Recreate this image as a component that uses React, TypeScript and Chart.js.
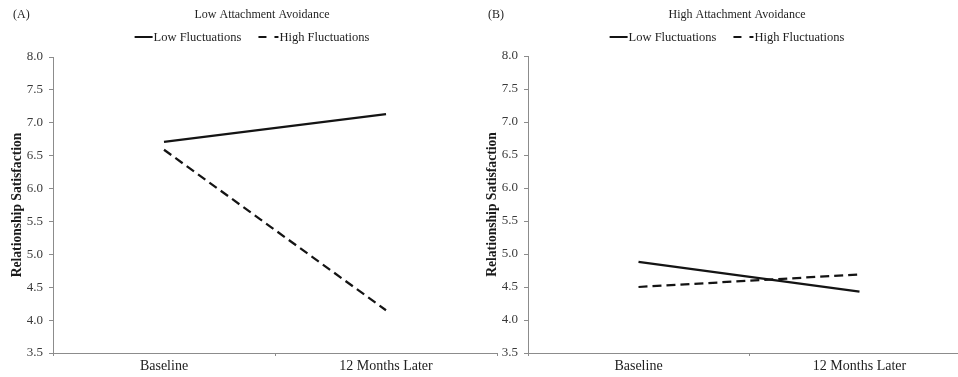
import React, { useEffect, useRef } from "react";
import { Chart, registerables } from "chart.js";

Chart.register(...registerables);
Chart.defaults.font.family = "'Liberation Serif', 'Times New Roman', serif";

// Measurement occasions and series names
const timePoints = ["Baseline", "12 Months Later"];
const seriesNames = ["Low Fluctuations", "High Fluctuations"];

// Panel A: low attachment avoidance
const lowAvoidLowFluct = [6.71, 7.13];
const lowAvoidHighFluct = [6.59, 4.15];

// Panel B: high attachment avoidance
const highAvoidLowFluct = [4.88, 4.43];
const highAvoidHighFluct = [4.5, 4.69];

// Y axis range
const yMin = 3.5;
const yMax = 8.0;
const yStep = 0.5;

const AXIS_GREY = "#8c8c8c";
const INK = "#141414";

// Draws the panel tag, panel title and the line-sample legend above the plot
const headerPlugin = {
  id: "panelHeader",
  afterDraw(chart: any, _args: any, opts: any) {
    const ctx = chart.ctx as CanvasRenderingContext2D;
    ctx.save();
    ctx.fillStyle = "#1e1e1e";
    ctx.textBaseline = "middle";
    ctx.font = "12px 'Liberation Serif'";
    ctx.textAlign = "left";
    ctx.fillText(opts.tag, opts.tagX, opts.titleY);
    ctx.textAlign = "center";
    ctx.fillText(opts.title, opts.titleX, opts.titleY);

    // legend
    ctx.font = "12.5px 'Liberation Serif'";
    const samples = [18, 20];
    const itemGap = 17;
    const items = chart.data.datasets.map((ds: any, i: number) => ({
      label: ds.label as string,
      dash: (ds.legendDash || []) as number[],
      sample: samples[i] ?? 18,
      textW: ctx.measureText(ds.label).width,
    }));
    const total =
      items.reduce((s: number, it: any) => s + it.sample + 1 + it.textW, 0) +
      itemGap * (items.length - 1);
    let x = opts.legendCenter - total / 2;
    const y = opts.legendY;
    ctx.textAlign = "left";
    for (const it of items) {
      ctx.beginPath();
      ctx.strokeStyle = INK;
      ctx.lineWidth = 2;
      ctx.setLineDash(it.dash);
      ctx.moveTo(x, y);
      ctx.lineTo(x + it.sample, y);
      ctx.stroke();
      ctx.setLineDash([]);
      x += it.sample + 1;
      ctx.fillText(it.label, x, y + 0.5);
      x += it.textW + itemGap;
    }
    ctx.restore();
  },
};

type PanelProps = {
  left: number;
  width: number;
  top: number;
  tag: string;
  title: string;
  low: number[];
  high: number[];
};

function Panel({ left, width, top, tag, title, low, high }: PanelProps) {
  const ref = useRef<HTMLCanvasElement>(null);

  useEffect(() => {
    const chart = new Chart(ref.current as HTMLCanvasElement, {
      type: "line",
      data: {
        labels: timePoints,
        datasets: [
          {
            label: seriesNames[0],
            data: low,
            borderColor: INK,
            borderWidth: 2.25,
            pointRadius: 0,
            fill: false,
            tension: 0,
            legendDash: [],
          } as any,
          {
            label: seriesNames[1],
            data: high,
            borderColor: INK,
            borderWidth: 2.25,
            borderDash: [9, 5],
            pointRadius: 0,
            fill: false,
            tension: 0,
            legendDash: [8, 8],
          } as any,
        ],
      },
      options: {
        responsive: false,
        animation: false,
        layout: { padding: { top, right: 3, left: 0, bottom: 0 } },
        scales: {
          x: {
            offset: true,
            grid: {
              offset: true,
              drawOnChartArea: false,
              drawTicks: true,
              tickLength: 3,
              color: AXIS_GREY,
            },
            border: { color: AXIS_GREY, width: 1 },
            ticks: {
              color: "#222",
              font: { size: 14 },
              padding: 2,
              maxRotation: 0,
            },
            afterFit: (s: any) => {
              s.height = 24;
            },
          },
          y: {
            min: yMin,
            max: yMax,
            ticks: {
              stepSize: yStep,
              callback: (v: any) => Number(v).toFixed(1),
              color: "#3a3a3a",
              font: { size: 13 },
              padding: 6,
            },
            grid: {
              drawOnChartArea: false,
              drawTicks: true,
              tickLength: 4,
              color: AXIS_GREY,
            },
            border: { color: AXIS_GREY, width: 1 },
            title: {
              display: true,
              text: "Relationship Satisfaction",
              color: "#1a1a1a",
              font: { size: 13.6, weight: "bold" },
              padding: { top: 9, bottom: 0 },
            },
            afterFit: (s: any) => {
              s.width = 53;
            },
          },
        },
        plugins: {
          legend: { display: false },
          tooltip: { enabled: false },
          panelHeader: {
            tag,
            tagX: 13,
            title,
            titleX: 262,
            titleY: 15,
            legendCenter: 252,
            legendY: 37,
          },
        } as any,
      },
      plugins: [headerPlugin],
    });
    return () => chart.destroy();
  }, []);

  return (
    <canvas
      ref={ref}
      width={width}
      height={377}
      style={{ position: "absolute", left, top: 0, width, height: 377 }}
    />
  );
}

export default function App() {
  return (
    <div
      style={{
        position: "fixed",
        left: 0,
        top: 0,
        width: 958,
        height: 377,
        overflow: "hidden",
        background: "#fff",
      }}
    >
      <Panel
        left={0}
        width={500}
        top={57}
        tag="(A)"
        title="Low Attachment Avoidance"
        low={lowAvoidLowFluct}
        high={lowAvoidHighFluct}
      />
      <Panel
        left={475}
        width={498}
        top={56}
        tag="(B)"
        title="High Attachment Avoidance"
        low={highAvoidLowFluct}
        high={highAvoidHighFluct}
      />
    </div>
  );
}
